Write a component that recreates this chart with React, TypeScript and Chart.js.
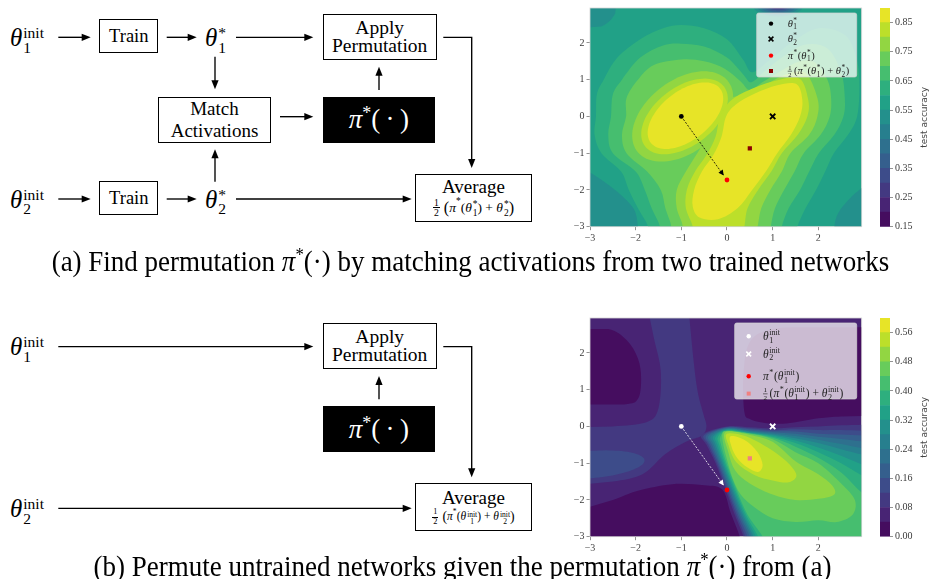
import React, { useEffect, useRef } from 'react';
import { Chart, registerables } from 'chart.js';
Chart.register(...registerables);

// ================= data =================
// Contour regions are given in data coordinates (x, y in [-3, 3]).
// Each region is painted with the colour of the band that starts at its level,
// in the listed order (later regions lie on top of earlier ones).

const levelsTrained = [0.15, 0.2, 0.25, 0.3, 0.35, 0.4, 0.45, 0.5, 0.55, 0.6, 0.65, 0.7, 0.75, 0.8, 0.85, 0.9];
const levelsInit = [0, 0.04, 0.08, 0.12, 0.16, 0.2, 0.24, 0.28, 0.32, 0.36, 0.4, 0.44, 0.48, 0.52, 0.56, 0.6];
const colorbarTicksTrained = [0.15, 0.25, 0.35, 0.45, 0.55, 0.65, 0.75, 0.85];
const colorbarTicksInit = [0, 0.08, 0.16, 0.24, 0.32, 0.4, 0.48, 0.56];
const axisTicks = [-3, -2, -1, 0, 1, 2];
const axisMin = -3;
const axisMax = 2.95;

// ---- panel (a): trained networks, background level 0.55 ----
const trainedBackground = 0.55;
const trCornerTopLeft = [[-3.3, 3.3], [-2.4, 3.3], [-2.45, 2.8], [-2.75, 2.45], [-3.3, 2.4]];
const trCornerBottomLeft = [[-3.3, -1.3], [-2.9, -1.6], [-2.45, -2.0], [-2.05, -2.5], [-1.95, -3.0], [-1.95, -3.3], [-3.3, -3.3]];
const trCornerBottomRight = [[3.3, -1.6], [2.8, -2.1], [2.45, -2.6], [2.35, -3.0], [2.35, -3.3], [3.3, -3.3]];
// dip at the top edge: [level, cx, cy, a, b, angle]
const trTopDip = [
  [0.5, 1.12, 3.02, 0.55, 0.3, 0],
  [0.45, 1.12, 3.02, 0.47, 0.25, 0],
  [0.4, 1.12, 3.02, 0.4, 0.21, 0],
  [0.35, 1.12, 3.02, 0.33, 0.17, 0],
  [0.3, 1.12, 3.02, 0.26, 0.13, 0],
  [0.25, 1.12, 3.02, 0.2, 0.1, 0],
  [0.2, 1.12, 3.02, 0.14, 0.07, 0],
];
const trAbove060 = [[-2.87, 0.0], [-2.85, 0.6], [-2.7, 1.0], [-2.4, 1.6], [-1.9, 2.1], [-1.4, 2.4], [-1.0, 2.49], [-0.5, 2.4], [0.0, 2.1], [0.35, 1.55], [0.55, 1.2], [0.9, 1.5], [1.4, 2.0], [2.0, 2.4], [2.6, 2.2], [2.85, 1.5], [2.9, 0.8], [2.85, 0.0], [2.65, -0.5], [2.34, -1.0], [2.15, -1.5], [1.95, -2.0], [1.72, -2.5], [1.54, -3.0], [1.5, -3.3], [-1.8, -3.3], [-1.73, -3.0], [-1.95, -2.5], [-2.15, -2.0], [-2.32, -1.5], [-2.75, -1.0], [-2.9, -0.5]];
const trAbove065 = [[-2.54, 0.0], [-2.5, 0.6], [-2.3, 1.0], [-1.9, 1.6], [-1.4, 1.93], [-1.0, 1.98], [-0.5, 1.9], [0.0, 1.6], [0.35, 1.15], [0.53, 0.93], [0.8, 1.2], [1.2, 1.6], [1.7, 1.95], [2.2, 1.85], [2.5, 1.2], [2.58, 0.5], [2.55, 0.0], [2.35, -0.5], [2.01, -1.0], [1.8, -1.5], [1.6, -2.0], [1.35, -2.5], [1.2, -3.0], [1.2, -3.3], [-1.55, -3.3], [-1.47, -3.0], [-1.65, -2.5], [-1.8, -2.0], [-2.0, -1.5], [-2.5, -1.0], [-2.6, -0.5]];
const trAbove070 = [[-2.21, 0.0], [-2.2, 0.5], [-1.95, 1.0], [-1.6, 1.4], [-1.0, 1.55], [-0.5, 1.5], [-0.05, 1.3], [0.3, 0.95], [0.5, 0.72], [0.8, 0.95], [1.2, 1.25], [1.6, 1.5], [1.93, 1.47], [2.2, 1.0], [2.28, 0.5], [2.25, 0.0], [2.05, -0.5], [1.68, -1.0], [1.48, -1.5], [1.25, -2.0], [1.05, -2.5], [0.96, -3.0], [0.95, -3.3], [-1.3, -3.3], [-1.22, -3.0], [-1.35, -2.5], [-1.45, -2.0], [-1.75, -1.5], [-2.2, -1.0], [-2.3, -0.5]];
const trLeftBlob = [
  [0.75, -0.97, 0.0, 1.4, 0.88, 52],
  [0.8, -0.93, 0.0, 1.2, 0.72, 50],
  [0.85, -0.91, 0.02, 1.07, 0.6, 50],
];
const trRight075 = [[1.72, 1.18], [1.98, 0.5], [1.98, 0.0], [1.8, -0.5], [1.39, -1.0], [1.2, -1.5], [0.95, -2.0], [0.75, -2.5], [0.67, -3.0], [0.6, -3.3], [-1.1, -3.3], [-0.97, -3.0], [-1.1, -2.5], [-1.1, -2.0], [-0.9, -1.5], [-0.65, -1.0], [-0.4, -0.5], [-0.25, 0.0], [0.1, 0.5], [0.47, 0.6], [0.9, 0.9], [1.3, 1.15]];
const trRight080 = [[1.6, 1.02], [1.78, 0.45], [1.76, 0.0], [1.55, -0.5], [1.2, -1.0], [0.97, -1.5], [0.68, -2.0], [0.45, -2.5], [0.38, -3.0], [0.3, -3.3], [-0.8, -3.3], [-0.75, -3.0], [-0.9, -2.5], [-0.88, -2.0], [-0.7, -1.5], [-0.45, -1.05], [-0.25, -0.55], [-0.15, 0.0], [0.1, 0.45], [0.6, 0.78], [1.15, 1.0]];
const trRight085 = [[1.52, 0.88], [1.65, 0.45], [1.6, 0.0], [1.4, -0.5], [1.1, -1.0], [0.85, -1.5], [0.55, -2.0], [0.23, -2.5], [-0.2, -2.8], [-0.6, -2.75], [-0.75, -2.45], [-0.72, -2.0], [-0.55, -1.5], [-0.3, -1.05], [-0.12, -0.55], [-0.02, 0.0], [0.2, 0.33], [0.6, 0.62], [1.1, 0.85]];

// ---- panel (b): untrained networks, background level 0.04 ----
const initBackground = 0.04;
const inDarkTopLeft = [[-3.3, 2.65], [-2.6, 2.65], [-2.2, 2.35], [-1.95, 1.85], [-1.88, 1.3], [-1.95, 0.75], [-2.25, 0.6], [-3.3, 0.6]];
const inDarkBottom = [[-3.3, -2.3], [-2.5, -2.0], [-1.95, -1.75], [-1.2, -1.57], [-0.5, -1.6], [-0.1, -1.72], [0.08, -2.35], [0.28, -3.0], [0.3, -3.3], [-3.3, -3.3]];
const inDarkUpperRight = [[0.38, 0.4], [0.36, 1.4], [0.5, 2.3], [1.0, 2.65], [2.0, 2.7], [3.3, 2.7], [3.3, 0.3], [2.5, 0.27], [2.0, 0.22], [1.3, 0.08], [0.8, 0.1], [0.5, 0.2]];
const inArms008 = [[-1.75, 3.3], [-0.85, 3.3], [-0.75, 2.0], [-0.65, 1.0], [-0.52, 0.35], [-0.45, 0.0], [-0.55, -0.25], [-0.9, -0.42], [-1.35, -0.75], [-1.85, -1.3], [-2.5, -1.5], [-3.3, -1.6], [-3.3, -0.02], [-2.5, 0.0], [-1.75, 0.12], [-1.5, 0.5], [-1.45, 1.5], [-1.6, 2.4]];
const inLeftArm012 = [0.12, -3.0, -1.04, 1.2, 0.37, 6];
const inBright008 = [[-0.55, -0.22], [0, 0], [0.5, -0.02], [1, -0.05], [1.5, -0.02], [2, 0], [2.5, 0.03], [3, 0.05], [3.3, 0.05], [3.3, -3.3], [0.36, -3.3], [0.36, -3], [0.17, -2.4], [-0.03, -1.72], [-0.25, -1], [-0.45, -0.5]];
const inBright012 = [[-0.5, -0.23], [0, -0.015], [0.5, -0.05], [1, -0.1], [1.5, -0.08], [2, -0.1], [2.5, -0.1], [3, -0.12], [3.3, -0.12], [3.3, -3.3], [0.4, -3.3], [0.4, -3], [0.205, -2.4], [0, -1.72], [-0.22, -1], [-0.41, -0.5]];
const inBright016 = [[-0.45, -0.24], [0, -0.03], [0.5, -0.08], [1, -0.13], [1.5, -0.14], [2, -0.2], [2.5, -0.22], [3, -0.25], [3.3, -0.25], [3.3, -3.3], [0.45, -3.3], [0.45, -3], [0.24, -2.4], [0.03, -1.72], [-0.19, -1], [-0.37, -0.5]];
const inBright020 = [[-0.4, -0.25], [0, -0.045], [0.5, -0.11], [1, -0.16], [1.5, -0.2], [2, -0.28], [2.5, -0.34], [3, -0.41], [3.3, -0.41], [3.3, -3.3], [0.5, -3.3], [0.5, -3], [0.275, -2.4], [0.06, -1.72], [-0.16, -1], [-0.33, -0.5]];
const inBright024 = [[-0.35, -0.26], [0, -0.06], [0.5, -0.13], [1, -0.19], [1.5, -0.26], [2, -0.36], [2.5, -0.48], [3, -0.6], [3.3, -0.6], [3.3, -3.3], [0.54, -3.3], [0.54, -3], [0.31, -2.4], [0.09, -1.72], [-0.13, -1], [-0.29, -0.5]];
const inBright028 = [[-0.3, -0.27], [0, -0.075], [0.5, -0.15], [1, -0.22], [1.5, -0.32], [2, -0.45], [2.5, -0.62], [3, -0.77], [3.3, -0.77], [3.3, -3.3], [0.58, -3.3], [0.58, -3], [0.345, -2.4], [0.12, -1.72], [-0.1, -1], [-0.25, -0.5]];
const inBright032 = [[-0.25, -0.28], [0, -0.09], [0.5, -0.17], [1, -0.25], [1.5, -0.38], [2, -0.57], [2.5, -0.8], [3, -1.05], [3.3, -1.05], [3.3, -3.3], [0.63, -3.3], [0.63, -3], [0.38, -2.4], [0.15, -1.72], [-0.07, -1], [-0.21, -0.5]];
const inBright036 = [[-0.2, -0.29], [0, -0.105], [0.5, -0.18], [1, -0.28], [1.5, -0.45], [2, -0.7], [2.5, -1.0], [3, -1.35], [3.3, -1.35], [3.3, -3.3], [0.68, -3.3], [0.68, -3], [0.415, -2.4], [0.18, -1.72], [-0.04, -1], [-0.17, -0.5]];
const inBright040 = [[-0.15, -0.3], [0, -0.12], [0.5, -0.19], [1, -0.31], [1.5, -0.55], [2, -0.85], [2.5, -1.25], [3, -1.84], [3.3, -1.84], [3.3, -3.3], [0.78, -3.3], [0.78, -3], [0.45, -2.4], [0.21, -1.72], [-0.01, -1], [-0.13, -0.5]];
const inBright044 = [[-0.1, -0.2], [0, -0.13], [0.5, -0.2], [1, -0.35], [1.5, -0.7], [2, -1.0], [2.5, -1.55], [2.8, -2.0], [2.75, -2.4], [2.4, -2.6], [2.0, -2.55], [1.5, -2.6], [1.0, -2.5], [0.6, -2.2], [0.3, -1.85], [0.12, -1.4], [0.0, -0.9], [-0.08, -0.5]];
const inBright048 = [[-0.04, -0.16], [0.5, -0.23], [1.0, -0.42], [1.5, -0.95], [2.0, -1.3], [2.3, -1.6], [2.35, -1.85], [2.0, -1.97], [1.5, -2.0], [1.0, -1.85], [0.5, -1.55], [0.18, -1.2], [0.03, -0.7]];
const inBright052 = [[0.0, -0.2], [0.4, -0.26], [0.9, -0.58], [1.3, -0.95], [1.52, -1.32], [1.35, -1.52], [1.0, -1.47], [0.6, -1.32], [0.2, -0.97], [0.03, -0.5]];
const inBright056 = [[0.08, -0.27], [0.4, -0.38], [0.67, -0.7], [0.78, -1.05], [0.68, -1.24], [0.45, -1.12], [0.23, -0.87], [0.1, -0.55]];

// ---- marked points ----
const theta1Point = [-1, 0];
const theta2Point = [1, 0];
const permutedPoint = [0, -1.73];
const averagePoint = [0.5, -0.87];
const arrowFrom = [-1, 0];
const arrowTo = [-0.07, -1.61];

const colorbarTitle = 'test accuracy';

type Seg = { t?: string; it?: boolean; sup?: string; sub?: string; num?: string; den?: string };
const legendTrained: Seg[][] = [
  [{ t: 'θ', it: true }, { sup: '*', sub: '1' }],
  [{ t: 'θ', it: true }, { sup: '*', sub: '2' }],
  [{ t: 'π', it: true }, { sup: '*' }, { t: '(' }, { t: 'θ', it: true }, { sup: '*', sub: '1' }, { t: ')' }],
  [{ num: '1', den: '2' }, { t: '(' }, { t: 'π', it: true }, { sup: '*' }, { t: '(' }, { t: 'θ', it: true }, { sup: '*', sub: '1' }, { t: ') + ' }, { t: 'θ', it: true }, { sup: '*', sub: '2' }, { t: ')' }],
];
const legendInit: Seg[][] = [
  [{ t: 'θ', it: true }, { sup: 'init', sub: '1' }],
  [{ t: 'θ', it: true }, { sup: 'init', sub: '2' }],
  [{ t: 'π', it: true }, { sup: '*' }, { t: '(' }, { t: 'θ', it: true }, { sup: 'init', sub: '1' }, { t: ')' }],
  [{ num: '1', den: '2' }, { t: '(' }, { t: 'π', it: true }, { sup: '*' }, { t: '(' }, { t: 'θ', it: true }, { sup: 'init', sub: '1' }, { t: ') + ' }, { t: 'θ', it: true }, { sup: 'init', sub: '2' }, { t: ')' }],
];

const captionA = ['(a) Find permutation ', ' by matching activations from two trained networks'];
const captionB = ['(b) Permute untrained networks given the permutation ', ' from (a)'];

// painting order of the contour regions
const shapesTrained = [
  { level: 0.5, pts: trCornerTopLeft },
  { level: 0.5, pts: trCornerBottomLeft },
  { level: 0.5, pts: trCornerBottomRight },
  ...trTopDip.map((e) => ({ level: e[0], ell: e.slice(1) })),
  { level: 0.6, pts: trAbove060 },
  { level: 0.65, pts: trAbove065 },
  { level: 0.7, pts: trAbove070 },
  { level: 0.75, ell: trLeftBlob[0].slice(1) },
  { level: 0.75, pts: trRight075 },
  { level: 0.8, ell: trLeftBlob[1].slice(1) },
  { level: 0.8, pts: trRight080 },
  { level: 0.85, ell: trLeftBlob[2].slice(1) },
  { level: 0.85, pts: trRight085 },
];
const shapesInit = [
  { level: 0, pts: inDarkTopLeft },
  { level: 0, pts: inDarkBottom },
  { level: 0, pts: inDarkUpperRight },
  { level: 0.08, pts: inArms008 },
  { level: inLeftArm012[0], ell: inLeftArm012.slice(1) },
  { level: 0.08, pts: inBright008 },
  { level: 0.12, pts: inBright012 },
  { level: 0.16, pts: inBright016 },
  { level: 0.2, pts: inBright020 },
  { level: 0.24, pts: inBright024 },
  { level: 0.28, pts: inBright028 },
  { level: 0.32, pts: inBright032 },
  { level: 0.36, pts: inBright036 },
  { level: 0.4, pts: inBright040 },
  { level: 0.44, pts: inBright044 },
  { level: 0.48, pts: inBright048 },
  { level: 0.52, pts: inBright052 },
  { level: 0.56, pts: inBright056 },
];

// ================= helpers =================
const SERIF = '"Liberation Serif", "Times New Roman", serif';
const VIRIDIS = ['#440154', '#482878', '#3e4989', '#31688e', '#26828e', '#1f9e89', '#35b779', '#6ece58', '#b5de2b', '#fde725'];

function hexRgb(h: string) {
  return [parseInt(h.slice(1, 3), 16), parseInt(h.slice(3, 5), 16), parseInt(h.slice(5, 7), 16)];
}
function viridis(t: number) {
  const s = Math.min(1, Math.max(0, t)) * (VIRIDIS.length - 1);
  const i = Math.min(VIRIDIS.length - 2, Math.floor(s));
  const f = s - i;
  const a = hexRgb(VIRIDIS[i]);
  const b = hexRgb(VIRIDIS[i + 1]);
  return [0, 1, 2].map((k) => Math.round(a[k] + (b[k] - a[k]) * f));
}
function bandColors(levels: number[]) {
  const n = levels.length - 1;
  return Array.from({ length: n }, (_, i) => `rgb(${viridis((i + 0.5) / n).join(',')})`);
}
function bandIndex(levels: number[], v: number) {
  let b = 0;
  while (b < levels.length - 2 && v >= levels[b + 1] - 1e-9) b++;
  return b;
}
const fmtAxis = (v: number) => (v < 0 ? '\u2212' + Math.abs(v) : String(v));

function pathShape(ctx: CanvasRenderingContext2D, sx: any, sy: any, shape: any) {
  ctx.beginPath();
  if (shape.ell) {
    const [cx, cy, a, b, deg] = shape.ell;
    const t = (deg * Math.PI) / 180;
    const ux = Math.cos(t);
    const uy = Math.sin(t);
    for (let i = 0; i < 96; i++) {
      const p = (i / 96) * 2 * Math.PI;
      const A = a * Math.cos(p);
      const B = b * Math.sin(p);
      const X = sx.getPixelForValue(cx + A * ux - B * uy);
      const Y = sy.getPixelForValue(cy + A * uy + B * ux);
      if (i) ctx.lineTo(X, Y);
      else ctx.moveTo(X, Y);
    }
    ctx.closePath();
    return;
  }
  const pts: number[][] = shape.pts;
  const n = pts.length;
  const P = pts.map((p) => [sx.getPixelForValue(p[0]), sy.getPixelForValue(p[1])]);
  const out = (p: number[]) => Math.abs(p[0]) > 3.02 || Math.abs(p[1]) > 3.02;
  ctx.moveTo(P[0][0], P[0][1]);
  for (let i = 0; i < n; i++) {
    const i0 = (i - 1 + n) % n;
    const i2 = (i + 1) % n;
    const i3 = (i + 2) % n;
    if (out(pts[i]) || out(pts[i2])) {
      ctx.lineTo(P[i2][0], P[i2][1]);
      continue;
    }
    const c1x = P[i][0] + (P[i2][0] - P[i0][0]) / 6;
    const c1y = P[i][1] + (P[i2][1] - P[i0][1]) / 6;
    const c2x = P[i2][0] - (P[i3][0] - P[i][0]) / 6;
    const c2y = P[i2][1] - (P[i3][1] - P[i][1]) / 6;
    ctx.bezierCurveTo(c1x, c1y, c2x, c2y, P[i2][0], P[i2][1]);
  }
  ctx.closePath();
}

function drawRich(ctx: CanvasRenderingContext2D, segs: Seg[], x: number, yMid: number, size: number, color: string) {
  let cx = x;
  const base = yMid + size * 0.32;
  ctx.fillStyle = color;
  ctx.strokeStyle = color;
  ctx.textAlign = 'left';
  ctx.textBaseline = 'alphabetic';
  for (const s of segs) {
    if (s.t !== undefined) {
      ctx.font = `${s.it ? 'italic ' : ''}${size}px ${SERIF}`;
      ctx.fillText(s.t, cx, base);
      cx += ctx.measureText(s.t).width;
    } else if (s.num !== undefined) {
      const fs = size * 0.62;
      ctx.font = `${fs}px ${SERIF}`;
      const w = Math.max(ctx.measureText(s.num).width, ctx.measureText(s.den || '').width) + 1;
      ctx.textAlign = 'center';
      ctx.fillText(s.num, cx + w / 2, base - size * 0.42);
      ctx.fillText(s.den || '', cx + w / 2, base + size * 0.22);
      ctx.textAlign = 'left';
      ctx.lineWidth = 0.6;
      ctx.beginPath();
      ctx.moveTo(cx, base - size * 0.3);
      ctx.lineTo(cx + w, base - size * 0.3);
      ctx.stroke();
      cx += w + 2;
    } else {
      const fs = size * 0.7;
      ctx.font = `${fs}px ${SERIF}`;
      let w = 0;
      if (s.sup) {
        ctx.fillText(s.sup, cx + 0.5, base - size * 0.42);
        w = Math.max(w, ctx.measureText(s.sup).width);
      }
      if (s.sub) {
        ctx.fillText(s.sub, cx + 0.5, base + size * 0.24);
        w = Math.max(w, ctx.measureText(s.sub).width);
      }
      cx += w + 1.2;
    }
  }
}

// ================= plugins =================
const contourPlugin = {
  id: 'contourFill',
  beforeDraw(chart: any, _args: any, opts: any) {
    const area = chart.chartArea;
    if (!area || !opts.shapes) return;
    const sx = chart.scales.x;
    const sy = chart.scales.y;
    const levels: number[] = opts.levels;
    const cols = bandColors(levels);
    const ctx = chart.ctx;
    ctx.save();
    ctx.beginPath();
    ctx.rect(area.left, area.top, area.right - area.left, area.bottom - area.top);
    ctx.clip();
    ctx.fillStyle = cols[bandIndex(levels, opts.background)];
    ctx.fillRect(area.left, area.top, area.right - area.left, area.bottom - area.top);
    for (const s of opts.shapes) {
      ctx.fillStyle = cols[bandIndex(levels, s.level)];
      pathShape(ctx, sx, sy, s);
      ctx.fill();
    }
    ctx.restore();
  },
  afterDatasetsDraw(chart: any) {
    const ctx = chart.ctx;
    const idx = chart.data.datasets.findIndex((d: any) => d.isArrow);
    if (idx >= 0) {
      const pts = chart.getDatasetMeta(idx).data;
      const p = pts[0];
      const q = pts[pts.length - 1];
      const L = Math.hypot(q.x - p.x, q.y - p.y);
      const ux = (q.x - p.x) / L;
      const uy = (q.y - p.y) / L;
      const hl = 5.5;
      const hw = 2.6;
      ctx.save();
      ctx.fillStyle = chart.data.datasets[idx].borderColor;
      ctx.beginPath();
      ctx.moveTo(q.x, q.y);
      ctx.lineTo(q.x - ux * hl - uy * hw, q.y - uy * hl + ux * hw);
      ctx.lineTo(q.x - ux * hl + uy * hw, q.y - uy * hl - ux * hw);
      ctx.closePath();
      ctx.fill();
      ctx.restore();
    }
    const a = chart.chartArea;
    ctx.save();
    ctx.strokeStyle = '#d4d4d4';
    ctx.lineWidth = 0.8;
    ctx.strokeRect(a.left, a.top, a.right - a.left, a.bottom - a.top);
    ctx.restore();
  },
};

function drawMarker(ctx: CanvasRenderingContext2D, style: string, color: string, x: number, y: number) {
  ctx.save();
  ctx.fillStyle = color;
  ctx.strokeStyle = color;
  if (style === 'circle') {
    ctx.beginPath();
    ctx.arc(x, y, 2.2, 0, Math.PI * 2);
    ctx.fill();
  } else if (style === 'crossRot') {
    ctx.lineWidth = 1.6;
    ctx.beginPath();
    ctx.moveTo(x - 2.4, y - 2.4);
    ctx.lineTo(x + 2.4, y + 2.4);
    ctx.moveTo(x - 2.4, y + 2.4);
    ctx.lineTo(x + 2.4, y - 2.4);
    ctx.stroke();
  } else {
    ctx.fillRect(x - 2, y - 2, 4, 4);
  }
  ctx.restore();
}

const legendPlugin = {
  id: 'richLegend',
  afterDraw(chart: any, _args: any, opts: any) {
    if (!opts.labels) return;
    const a = chart.chartArea;
    const ctx = chart.ctx;
    const bx = a.right - opts.right - opts.width;
    const by = a.top + opts.top;
    ctx.save();
    ctx.fillStyle = 'rgba(255,255,255,0.72)';
    ctx.strokeStyle = 'rgba(210,210,210,0.9)';
    ctx.lineWidth = 0.8;
    ctx.beginPath();
    ctx.roundRect(bx, by, opts.width, opts.height, 2);
    ctx.fill();
    ctx.stroke();
    ctx.restore();
    opts.labels.forEach((segs: Seg[], i: number) => {
      const y = by + opts.rows[i];
      const m = opts.markers[i];
      drawMarker(ctx, m.style, m.color, bx + opts.markerX, y);
      drawRich(ctx, segs, bx + opts.textX, y, opts.fontSize, '#222');
    });
  },
};

const colorbarTitlePlugin = {
  id: 'cbarTitle',
  afterDraw(chart: any, _args: any, opts: any) {
    const a = chart.chartArea;
    const ctx = chart.ctx;
    ctx.save();
    ctx.translate(opts.x, (a.top + a.bottom) / 2);
    ctx.rotate(-Math.PI / 2);
    ctx.font = `9px "DejaVu Sans", sans-serif`;
    ctx.fillStyle = '#444';
    ctx.textAlign = 'center';
    ctx.textBaseline = 'middle';
    ctx.fillText(colorbarTitle, 0, 0);
    ctx.restore();
  },
};

// ================= chart configs =================
function axisScale(isX: boolean) {
  return {
    type: 'linear',
    min: axisMin,
    max: axisMax,
    afterBuildTicks: (s: any) => {
      s.ticks = axisTicks.map((v) => ({ value: v }));
    },
    afterFit: (s: any) => {
      if (isX) s.height = 14;
      else s.width = 35;
    },
    grid: { display: true, drawOnChartArea: false, drawTicks: true, tickLength: 3.5, tickColor: '#777', lineWidth: 0.8 },
    border: { display: false },
    ticks: {
      padding: 2,
      autoSkip: false,
      maxRotation: 0,
      color: '#3a3a3a',
      font: { family: SERIF, size: 10 },
      callback: (v: any) => fmtAxis(Number(v)),
    },
  };
}

function contourConfig(panel: any) {
  const pt = (p: number[]) => [{ x: p[0], y: p[1] }];
  return {
    type: 'scatter',
    data: {
      datasets: [
        { data: [{ x: arrowFrom[0], y: arrowFrom[1] }, { x: arrowTo[0], y: arrowTo[1] }], showLine: true, isArrow: true, borderColor: panel.arrow, borderWidth: 0.8, borderDash: [2, 1.5], pointRadius: 0, backgroundColor: panel.arrow },
        { data: pt(theta1Point), pointStyle: 'circle', pointRadius: 2.4, pointBorderWidth: 0, backgroundColor: panel.m[0], borderColor: panel.m[0] },
        { data: pt(theta2Point), pointStyle: 'crossRot', pointRadius: 3.8, pointBorderWidth: 1.8, backgroundColor: panel.m[1], borderColor: panel.m[1] },
        { data: pt(permutedPoint), pointStyle: 'circle', pointRadius: 2.4, pointBorderWidth: 0, backgroundColor: panel.m[2], borderColor: panel.m[2] },
        { data: pt(averagePoint), pointStyle: 'rect', pointRadius: 3, pointBorderWidth: 0, backgroundColor: panel.m[3], borderColor: panel.m[3] },
      ],
    },
    options: {
      animation: false,
      responsive: false,
      devicePixelRatio: 1,
      events: [],
      layout: { padding: { left: 0, right: 13.3, top: 6.7, bottom: 9.3 } },
      scales: { x: axisScale(true), y: axisScale(false) },
      plugins: {
        legend: { display: false },
        tooltip: { enabled: false },
        contourFill: { shapes: panel.shapes, levels: panel.levels, background: panel.background },
        richLegend: {
          labels: panel.legend,
          markers: [
            { style: 'circle', color: panel.m[0] },
            { style: 'crossRot', color: panel.m[1] },
            { style: 'circle', color: panel.m[2] },
            { style: 'rect', color: panel.m[3] },
          ],
          ...panel.legendBox,
        },
      },
    },
    plugins: [contourPlugin, legendPlugin],
  };
}

function colorbarConfig(levels: number[], ticks: number[]) {
  const cols = bandColors(levels);
  return {
    type: 'bar',
    data: {
      labels: ['cb'],
      datasets: levels.slice(0, -1).map((lo, i) => ({
        data: [[lo, levels[i + 1]]],
        backgroundColor: cols[i],
        borderWidth: 0,
        grouped: false,
        barPercentage: 1,
        categoryPercentage: 1,
      })),
    },
    options: {
      animation: false,
      responsive: false,
      devicePixelRatio: 1,
      events: [],
      layout: { padding: { left: 10, right: 0, top: 6.7, bottom: 23.3 } },
      scales: {
        x: { display: false },
        y: {
          position: 'right',
          min: levels[0],
          max: levels[levels.length - 1],
          afterBuildTicks: (s: any) => {
            s.ticks = ticks.map((v) => ({ value: v }));
          },
          afterFit: (s: any) => {
            s.width = 40;
          },
          grid: { display: true, drawOnChartArea: false, drawTicks: true, tickLength: 3, tickColor: '#777', lineWidth: 0.8 },
          border: { display: false },
          ticks: { padding: 2, color: '#3a3a3a', font: { family: SERIF, size: 10 }, callback: (v: any) => Number(v).toFixed(2) },
        },
      },
      plugins: { legend: { display: false }, tooltip: { enabled: false }, cbarTitle: { x: 55 } },
    },
    plugins: [colorbarTitlePlugin],
  };
}

const panelTrained = {
  shapes: shapesTrained,
  levels: levelsTrained,
  background: trainedBackground,
  legend: legendTrained,
  arrow: '#000000',
  m: ['#000000', '#000000', '#ff0000', '#8b0000'],
  legendBox: { right: 5, top: 5, width: 100, height: 64, rows: [10.6, 26, 42.6, 58], markerX: 14.3, textX: 31, fontSize: 10.5 },
};
const panelInit = {
  shapes: shapesInit,
  levels: levelsInit,
  background: initBackground,
  legend: legendInit,
  arrow: '#ffffff',
  m: ['#ffffff', '#ffffff', '#ff0000', '#f08080'],
  legendBox: { right: 5, top: 5, width: 122, height: 76, rows: [13.3, 31, 53.3, 70.6], markerX: 14, textX: 28.3, fontSize: 11.5 },
};

function ChartCanvas({ left, top, width, height, make }: any) {
  const ref = useRef<HTMLCanvasElement>(null);
  useEffect(() => {
    const chart = new Chart(ref.current as any, make());
    return () => chart.destroy();
  }, []);
  return <canvas ref={ref} width={width} height={height} style={{ position: 'absolute', left, top, width, height }} />;
}

// ================= diagram pieces =================
function Script({ sup, sub, size }: any) {
  return (
    <span style={{ display: 'inline-flex', flexDirection: 'column', fontSize: size, lineHeight: 1, marginLeft: 1, marginTop: size * 0.3 }}>
      <span style={{ height: size * 0.95 }}>{sup || '\u00a0'}</span>
      <span style={{ height: size * 0.95 }}>{sub || '\u00a0'}</span>
    </span>
  );
}
function Sym({ base, sup, sub, size, ss }: any) {
  return (
    <span style={{ display: 'inline-flex', alignItems: 'center', lineHeight: 1 }}>
      <span style={{ fontStyle: 'italic', fontSize: size }}>{base}</span>
      <Script sup={sup} sub={sub} size={ss} />
    </span>
  );
}
function Label({ x, y, children }: any) {
  return <div style={{ position: 'absolute', left: x, top: y, transform: 'translateY(-50%)', whiteSpace: 'nowrap' }}>{children}</div>;
}
function Box({ x1, y1, x2, y2, dark, lh, children }: any) {
  return (
    <div
      style={{
        position: 'absolute', left: x1, top: y1, width: x2 - x1, height: y2 - y1, boxSizing: 'border-box',
        border: '1.3px solid #000', background: dark ? '#000' : '#fff', color: dark ? '#fff' : '#000',
        display: 'flex', flexDirection: 'column', alignItems: 'center', justifyContent: 'center', lineHeight: lh || 1,
        textAlign: 'center',
      }}
    >
      {children}
    </div>
  );
}
function Frac({ size }: any) {
  return (
    <span style={{ display: 'inline-flex', flexDirection: 'column', alignItems: 'center', fontSize: size, lineHeight: 1, margin: '0 4px 0 0' }}>
      <span>1</span>
      <span style={{ borderTop: '0.7px solid #000', padding: '0 1px' }}>2</span>
    </span>
  );
}
function AvgFormula({ s1, s2, size, ssr }: any) {
  const ss = size * (ssr || 0.7);
  return (
    <span style={{ display: 'inline-flex', alignItems: 'center', fontSize: size, lineHeight: 1, whiteSpace: 'nowrap', marginTop: 1 }}>
      <Frac size={size * 0.72} />
      <span style={{ fontSize: size * 1.2 }}>(</span>
      <i>π</i>
      <span style={{ fontSize: ss, alignSelf: 'flex-start' }}>*</span>
      <span>(</span>
      <Sym base="θ" sup={s1[0]} sub={s1[1]} size={size} ss={ss} />
      <span>)&nbsp;+&nbsp;</span>
      <Sym base="θ" sup={s2[0]} sub={s2[1]} size={size} ss={ss} />
      <span style={{ fontSize: size * 1.2 }}>)</span>
    </span>
  );
}
function PiBox() {
  return (
    <span style={{ display: 'inline-flex', alignItems: 'flex-start', fontSize: 27, lineHeight: 1 }}>
      <i>π</i>
      <span style={{ fontSize: 18, marginTop: -2 }}>*</span>
      <span>(&thinsp;·&thinsp;)</span>
    </span>
  );
}
function PiInline() {
  return (
    <span>
      <i>π</i>
      <span style={{ fontSize: '0.62em', verticalAlign: '0.55em' }}>*</span>(·)
    </span>
  );
}

type Pt = [number, number];
function ArrowPath({ pts }: { pts: Pt[] }) {
  const n = pts.length;
  const [px, py] = pts[n - 2];
  const [qx, qy] = pts[n - 1];
  const L = Math.hypot(qx - px, qy - py);
  const ux = (qx - px) / L;
  const uy = (qy - py) / L;
  const hl = 9;
  const hw = 3.6;
  const bx = qx - ux * hl;
  const by = qy - uy * hl;
  const linePts = [...pts.slice(0, n - 1), [bx + ux, by + uy]].map((p) => p.join(',')).join(' ');
  const head = [[qx, qy], [bx - uy * hw, by + ux * hw], [bx + uy * hw, by - ux * hw]].map((p) => p.join(',')).join(' ');
  return (
    <g>
      <polyline points={linePts} fill="none" stroke="#000" strokeWidth={1.35} />
      <polygon points={head} fill="#000" />
    </g>
  );
}

const arrowsA: Pt[][] = [
  [[58.3, 37.3], [90.7, 37.3]],
  [[166.7, 37.3], [196.7, 37.3]],
  [[236, 37.3], [313.3, 37.3]],
  [[443.3, 37.3], [471.7, 37.3], [471.7, 168]],
  [[215, 56.7], [215, 89.3]],
  [[280, 116.7], [313.3, 116.7]],
  [[379, 90], [379, 66.7]],
  [[58.3, 199], [90.7, 199]],
  [[166.7, 199], [196.7, 199]],
  [[215, 181.7], [215, 149.3]],
  [[236, 199], [411.7, 199]],
];
const OFFB = 309.3;
const arrowsB: Pt[][] = [
  [[58.3, 37.3 + OFFB], [313.3, 37.3 + OFFB]],
  [[443.3, 37.3 + OFFB], [471.7, 37.3 + OFFB], [471.7, 168 + OFFB]],
  [[379, 90 + OFFB], [379, 66.7 + OFFB]],
  [[58.3, 199 + OFFB], [411.7, 199 + OFFB]],
];

export default function App() {
  return (
    <div style={{ position: 'fixed', left: 0, top: 0, width: 930, height: 579, background: '#fff', fontFamily: SERIF, color: '#000', overflow: 'hidden' }}>
      <svg width={930} height={579} style={{ position: 'absolute', left: 0, top: 0 }}>
        {[...arrowsA, ...arrowsB].map((p, i) => (
          <ArrowPath key={i} pts={p} />
        ))}
      </svg>

      {/* ---- diagram (a) ---- */}
      <Label x={10} y={37.3}><Sym base="θ" sup="init" sub="1" size={25} ss={15.5} /></Label>
      <Label x={205} y={37.3}><Sym base="θ" sup="*" sub="1" size={25} ss={15.5} /></Label>
      <Label x={10} y={199}><Sym base="θ" sup="init" sub="2" size={25} ss={15.5} /></Label>
      <Label x={205} y={199}><Sym base="θ" sup="*" sub="2" size={25} ss={15.5} /></Label>
      <Box x1={99.3} y1={19} x2={158.3} y2={53.3}><span style={{ fontSize: 18.5 }}>Train</span></Box>
      <Box x1={99.3} y1={181} x2={158.3} y2={215}><span style={{ fontSize: 18.5 }}>Train</span></Box>
      <Box x1={322.7} y1={14} x2={436.7} y2={60} lh="18.5px"><span style={{ fontSize: 19.5 }}>Apply<br />Permutation</span></Box>
      <Box x1={158.3} y1={96.7} x2={270.7} y2={142.7} lh="21.5px"><span style={{ fontSize: 19 }}>Match<br />Activations</span></Box>
      <Box x1={322.7} y1={96.7} x2={435} y2={142.7} dark><PiBox /></Box>
      <Box x1={415} y1={174} x2={532} y2={221.7}>
        <span style={{ fontSize: 19, lineHeight: '19px' }}>Average</span>
        <AvgFormula s1={['*', '1']} s2={['*', '2']} size={13.5} />
      </Box>

      {/* ---- diagram (b) ---- */}
      <Label x={10} y={37.3 + OFFB}><Sym base="θ" sup="init" sub="1" size={25} ss={15.5} /></Label>
      <Label x={10} y={199 + OFFB}><Sym base="θ" sup="init" sub="2" size={25} ss={15.5} /></Label>
      <Box x1={322.7} y1={14 + OFFB} x2={436.7} y2={60 + OFFB} lh="18.5px"><span style={{ fontSize: 19.5 }}>Apply<br />Permutation</span></Box>
      <Box x1={322.7} y1={96.7 + OFFB} x2={435} y2={142.7 + OFFB} dark><PiBox /></Box>
      <Box x1={415} y1={174 + OFFB} x2={532} y2={221.7 + OFFB}>
        <span style={{ fontSize: 19, lineHeight: '19px' }}>Average</span>
        <AvgFormula s1={['init', '1']} s2={['init', '2']} size={11.5} ssr={0.66} />
      </Box>

      {/* ---- charts ---- */}
      <ChartCanvas left={555} top={0} width={320} height={250} make={() => contourConfig(panelTrained)} />
      <ChartCanvas left={870} top={0} width={60} height={250} make={() => colorbarConfig(levelsTrained, colorbarTicksTrained)} />
      <ChartCanvas left={555} top={310} width={320} height={250} make={() => contourConfig(panelInit)} />
      <ChartCanvas left={870} top={310} width={60} height={250} make={() => colorbarConfig(levelsInit, colorbarTicksInit)} />

      {/* ---- captions ---- */}
      <div style={{ position: 'absolute', left: 470.5 - 500, width: 1000, top: 241, textAlign: 'center', fontSize: 27, lineHeight: '30px', whiteSpace: 'nowrap', transform: 'scaleY(1.08)' }}>
        {captionA[0]}<PiInline />{captionA[1]}
      </div>
      <div style={{ position: 'absolute', left: 462.5 - 500, width: 1000, top: 546, textAlign: 'center', fontSize: 27, lineHeight: '30px', whiteSpace: 'nowrap', transform: 'scaleY(1.08)' }}>
        {captionB[0]}<PiInline />{captionB[1]}
      </div>
    </div>
  );
}
